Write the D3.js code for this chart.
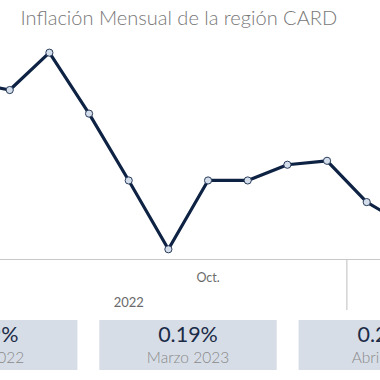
<!DOCTYPE html>
<html>
<head>
<meta charset="utf-8">
<script src="https://cdn.jsdelivr.net/npm/d3@7"></script>
<style>
  html, body { margin: 0; padding: 0; background: #ffffff; }
  svg { display: block; }
</style>
</head>
<body>
<svg id="chart" width="380" height="380"></svg>
<script>
// ---- data ----
const title = "Inflación Mensual de la región CARD";
const months = ["2022-02","2022-03","2022-04","2022-05","2022-06","2022-07","2022-08",
                "2022-09","2022-10","2022-11","2022-12","2023-01","2023-02","2023-03","2023-04"];
const inflation = [0.75, 0.93, 0.89, 1.08, 0.77, 0.43, 0.08, 0.43, 0.43, 0.51, 0.53, 0.32, 0.20, 0.19, 0.29];
const monthTickMonths = ["2022-09"];
const monthTickLabels = ["Oct."];
const years = ["2022"];
const cardMonths = ["2022-04", "2023-03", "2023-04"];
const cardLabels = ["Abril 2022", "Marzo 2023", "Abril 2023"];

// ---- layout ----
const svg = d3.select("#chart");
const W = 380;
const axisY = 259.5;
const headerBottom = 310;
const font = "Lato, 'Open Sans', sans-serif";

const x = d3.scalePoint().domain(months).range([-69.6, 485.7]).padding(0);
const y = d3.scaleLinear().domain([0, 1.2]).range([265, 265 - 1.2 * 196.6]);

// title
const t = svg.append("text")
  .attr("x", 20.5).attr("y", 25)
  .attr("fill", "#777777")
  .style("font-family", font)
  .style("font-weight", 300)
  .style("font-size", "20px")
  .text(title);
const tw = t.node().getComputedTextLength();
t.style("font-size", (20 * 317 / tw).toFixed(2) + "px");

// axis line (bottom of the plot pane)
svg.append("line")
  .attr("x1", 0).attr("x2", W)
  .attr("y1", axisY).attr("y2", axisY)
  .attr("stroke", "#c8c8c8").attr("stroke-width", 1.2);

// year separators in the header
const yearOf = m => m.slice(0, 4);
const seps = [];
for (let i = 1; i < months.length; i++) {
  if (yearOf(months[i]) !== yearOf(months[i - 1])) seps.push((x(months[i]) + x(months[i - 1])) / 2);
}
svg.selectAll("line.sep").data(seps).enter().append("line")
  .attr("class", "sep")
  .attr("x1", d => d).attr("x2", d => d)
  .attr("y1", axisY).attr("y2", headerBottom)
  .attr("stroke", "#c8c8c8").attr("stroke-width", 1.2);

// month tick labels
svg.selectAll("text.mtick").data(monthTickMonths).enter().append("text")
  .attr("class", "mtick")
  .attr("x", d => x(d)).attr("y", 282)
  .attr("text-anchor", "middle")
  .attr("fill", "#6a6a6a")
  .style("font-family", font)
  .style("font-size", "12.5px")
  .text((d, i) => monthTickLabels[i]);

// year labels, centered on their pane
svg.selectAll("text.ylab").data(years).enter().append("text")
  .attr("class", "ylab")
  .attr("x", yr => {
    const ms = months.filter(m => yearOf(m) === yr);
    return (x(ms[0]) + x(ms[ms.length - 1])) / 2;
  })
  .attr("y", 307)
  .attr("text-anchor", "middle")
  .attr("fill", "#6a6a6a")
  .style("font-family", font)
  .style("font-size", "13px")
  .text(d => d);

// line
const line = d3.line().x((d, i) => x(months[i])).y(d => y(d));
svg.append("path")
  .datum(inflation)
  .attr("d", line)
  .attr("fill", "none")
  .attr("stroke", "#0e2244")
  .attr("stroke-width", 3.2)
  .attr("stroke-linejoin", "round");

// points
svg.selectAll("circle.pt").data(inflation).enter().append("circle")
  .attr("class", "pt")
  .attr("cx", (d, i) => x(months[i]))
  .attr("cy", d => y(d))
  .attr("r", 3.6)
  .attr("fill", "#d4ddea")
  .attr("stroke", "#2a3d5c")
  .attr("stroke-width", 1);

// KPI cards
const b = d3.scaleBand().domain(cardLabels).range([-100, 476]).paddingInner(0.11).paddingOuter(0);
const cards = svg.selectAll("g.card").data(cardLabels).enter().append("g").attr("class", "card");
cards.append("rect")
  .attr("x", d => b(d)).attr("y", 320)
  .attr("width", b.bandwidth()).attr("height", 50)
  .attr("fill", "#d6dde6");
cards.append("text")
  .attr("x", d => b(d) + b.bandwidth() / 2).attr("y", 341.7)
  .attr("text-anchor", "middle")
  .attr("fill", "#1b2b48")
  .style("font-family", font)
  .style("font-size", "21.5px")
  .text((d, i) => inflation[months.indexOf(cardMonths[i])].toFixed(2) + "%");
cards.append("text")
  .attr("x", d => b(d) + b.bandwidth() / 2).attr("y", 363.3)
  .attr("text-anchor", "middle")
  .attr("fill", "#8a8a8a")
  .style("font-family", font)
  .style("font-weight", 300)
  .style("font-size", "15.5px")
  .text(d => d);
</script>
</body>
</html>
